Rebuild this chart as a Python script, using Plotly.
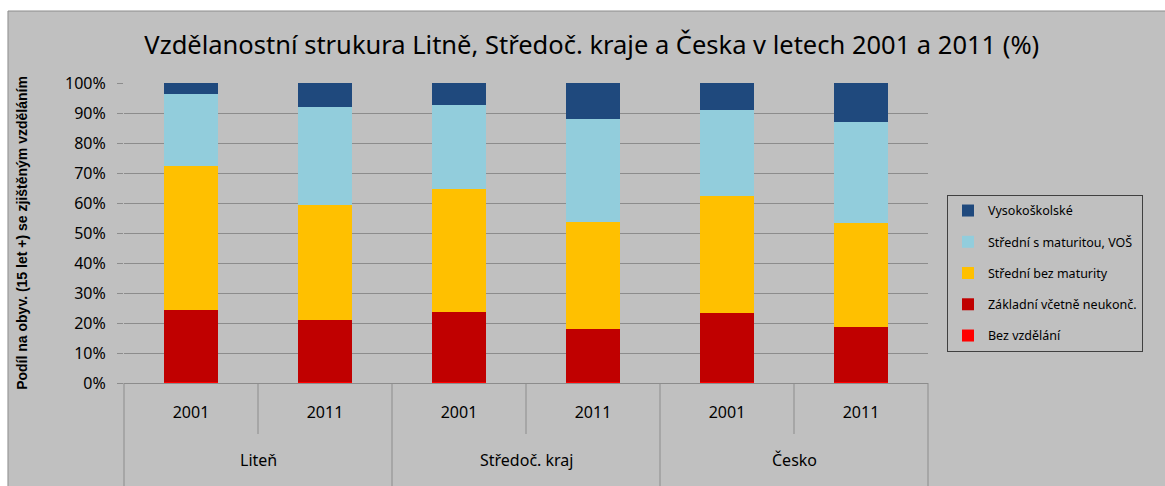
"""Vzdělanostní struktura Litně, Středoč. kraje a Česka 2001 a 2011"""
import plotly.graph_objects as go

# data
oblasti = ["Liteň", "Liteň", "Středoč. kraj", "Středoč. kraj", "Česko", "Česko"]
roky = ["2001", "2011", "2001", "2011", "2001", "2011"]

bez_vzdelani = [0.4, 0.5, 0.4, 0.4, 0.5, 0.5]
zakladni = [23.8, 20.4, 23.4, 17.6, 22.8, 18.2]
stredni_bez = [48.0, 38.4, 40.9, 35.8, 38.9, 34.8]
stredni_s = [24.2, 32.7, 28.1, 34.2, 28.7, 33.4]
vysokoskolske = [3.6, 8.0, 7.2, 12.0, 9.1, 13.1]

serie = [
    ("Bez vzdělání", bez_vzdelani, "#ff0000"),
    ("Základní včetně neukonč.", zakladni, "#c00000"),
    ("Střední bez maturity", stredni_bez, "#ffc000"),
    ("Střední s maturitou, VOŠ", stredni_s, "#92cddc"),
    ("Vysokoškolské", vysokoskolske, "#1f497d"),
]

FONT = "Noto Sans"

# jedinecne kategorie, popisky = roky
kategorie = [o + " " + r for o, r in zip(oblasti, roky)]

fig = go.Figure()
for i, (nazev, hodnoty, barva) in enumerate(serie):
    fig.add_trace(go.Bar(x=kategorie, y=hodnoty, name=nazev,
                         marker_color=barva, marker_line_width=0,
                         legendgroup=str(i), legendrank=100 - i))

# popisky oblasti pod roky
skupiny = []
for j, o in enumerate(oblasti):
    if o not in skupiny:
        skupiny.append(o)
        fig.add_annotation(x=j + 0.5, xref="x", y=-0.257, yref="paper",
                           text=o, showarrow=False, yanchor="middle",
                           font=dict(family=FONT, size=16, color="black"))

# pozadi grafu s okrajem
fig.add_shape(type="rect", xref="paper", yref="paper",
              x0=-0.1443, x1=1.4, y0=-0.5, y1=1.24,
              fillcolor="#c0c0c0", line=dict(color="#8c8c8c", width=1),
              layer="below")

# svisle cary v oblasti popisku
for k in range(7):
    y1 = -0.345 if k % 2 == 0 else -0.17
    fig.add_shape(type="line", xref="paper", yref="paper",
                  x0=k / 6, x1=k / 6, y0=0, y1=y1,
                  line=dict(color="#8c8c8c", width=1))

fig.update_layout(
    width=1165, height=486,
    margin=dict(l=124, r=237, t=83, b=103),
    paper_bgcolor="white", plot_bgcolor="white",
    barmode="stack", bargap=0.6,
    font=dict(family=FONT, color="black", size=16),
    title=dict(text="Vzdělanostní strukura Litně, Středoč. kraje a Česka v letech 2001 a 2011 (%)",
               x=0.508, xref="container", xanchor="center", y=0.907, yanchor="middle",
               font=dict(family=FONT, size=25.5, color="black")),
    legend=dict(x=1.0236, xanchor="left", y=0.627, yanchor="top",
                traceorder="grouped",
                bgcolor="#c0c0c0", bordercolor="#404040", borderwidth=1,
                font=dict(family=FONT, size=12.5), tracegroupgap=12),
    xaxis=dict(tickvals=kategorie, ticktext=roky, showgrid=False,
               showline=True, linecolor="#8c8c8c", ticks="",
               ticklabelstandoff=15, tickfont=dict(size=16)),
    yaxis=dict(range=[0, 100], dtick=10, ticksuffix="%", showgrid=True,
               gridcolor="#8c8c8c", gridwidth=1, ticks="outside", ticklen=6,
               tickcolor="#8c8c8c", zeroline=False, showline=False,
               ticklabelstandoff=8, tickfont=dict(size=16),
               title=dict(text="<b>Podíl na obyv. (15 let +) se zjištěným vzděláním</b>",
                          font=dict(family="Liberation Sans", size=14), standoff=34)),
)

fig.write_html("out.html", config={"displayModeBar": False},
               post_script="document.body.style.margin='0';")
